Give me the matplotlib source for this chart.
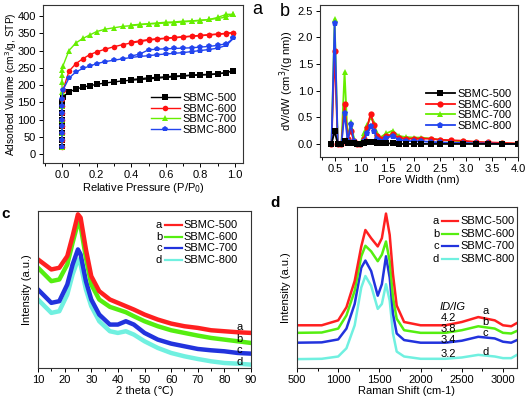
import numpy as np
import matplotlib
matplotlib.use("Agg")
import matplotlib.pyplot as plt
from matplotlib.ticker import MultipleLocator

plt.rcParams['font.family'] = ['Liberation Sans', 'DejaVu Sans']
plt.rcParams['font.size'] = 8

names = ['SBMC-500', 'SBMC-600', 'SBMC-700', 'SBMC-800']

# ---- panel a: N2 isotherms ----
p_ads = [0, 0, 0, 0, 0, 0, 0, 0, 0.005, 0.04, 0.08, 0.12, 0.16, 0.2, 0.25, 0.3,
         0.35, 0.4, 0.45, 0.5, 0.55, 0.6, 0.65, 0.7, 0.75, 0.8, 0.85, 0.9, 0.95, 0.99]
p_des = [0.99, 0.95, 0.9, 0.85, 0.8, 0.75, 0.7, 0.65, 0.6, 0.55, 0.5, 0.45, 0.4]

ads_500 = [20, 40, 60, 80, 100, 120, 140, 150, 165, 180, 188, 194, 198, 202, 206, 209,
           212, 214, 216, 218, 220, 222, 224, 226, 228, 229, 230, 232, 236, 242]
des_500 = [242, 236, 233, 231, 230, 229, 227, 226, 224, 222, 221, 218, 216]
ads_600 = [20, 40, 60, 80, 100, 120, 140, 160, 185, 240, 262, 276, 288, 296, 304, 311,
           317, 322, 326, 330, 333, 335, 337, 339, 341, 343, 345, 347, 349, 352]
des_600 = [352, 350, 348, 346, 344, 342, 340, 338, 336, 334, 332, 328, 324]
ads_700 = [20, 60, 100, 140, 180, 210, 230, 245, 255, 300, 322, 335, 345, 355, 362, 366,
           370, 372, 375, 377, 378, 380, 381, 383, 385, 387, 390, 396, 405, 405]
des_700 = [405, 397, 393, 390, 388, 386, 385, 383, 382, 380, 378, 376, 374]
ads_800 = [20, 40, 60, 80, 100, 120, 140, 160, 185, 220, 238, 248, 255, 262, 268, 272,
           276, 280, 283, 285, 288, 290, 292, 294, 297, 300, 303, 307, 315, 335]
des_800 = [335, 320, 315, 312, 310, 308, 307, 306, 305, 304, 302, 290, 284]

# ---- panel b: pore size distribution ----
pore_w = [0.43, 0.49, 0.55, 0.62, 0.68, 0.74, 0.80, 0.86, 0.92, 0.98, 1.05, 1.11, 1.18,
          1.24, 1.30, 1.36, 1.48, 1.60, 1.72, 1.85, 2.0, 2.15, 2.33, 2.5, 2.72, 2.95,
          3.2, 3.43, 3.7, 4.0]
psd_500 = [0, 0.24, 0, 0, 0.05, 0.02, 0.02, 0.01, 0, 0, 0.02, 0.03, 0.04, 0.03, 0.02,
           0.01, 0.01, 0.01, 0, 0, 0, 0, 0, 0, 0, 0, 0, 0, 0, 0]
psd_600 = [0, 1.75, 0, 0, 0.75, 0.1, 0.25, 0.05, 0, 0, 0.1, 0.3, 0.57, 0.35, 0.15, 0.1,
           0.15, 0.18, 0.12, 0.1, 0.1, 0.1, 0.1, 0.08, 0.07, 0.06, 0.04, 0.03, 0.02, 0.01]
psd_700 = [0, 2.35, 0, 0, 1.35, 0.1, 0.42, 0.1, 0, 0, 0.2, 0.35, 0.5, 0.4, 0.2, 0.12,
           0.2, 0.25, 0.15, 0.13, 0.12, 0.12, 0.1, 0.08, 0.06, 0.05, 0.03, 0.02, 0.01, 0]
psd_800 = [0, 2.27, 0, 0, 0.58, 0.05, 0.38, 0.05, 0, 0, 0.05, 0.2, 0.33, 0.25, 0.1, 0.05,
           0.12, 0.15, 0.08, 0.06, 0.05, 0.05, 0.04, 0.03, 0.02, 0.02, 0.01, 0.01, 0, 0]

# ---- panel c: XRD ----
theta = [10, 15, 18, 21, 23, 25, 26, 28, 30, 33, 37, 40, 43, 46, 50, 55, 60, 65, 70, 75, 80, 85, 90]
xrd_a = [325, 295, 300, 335, 395, 460, 450, 355, 275, 230, 205, 195, 185, 175, 160, 145,
         133, 125, 120, 113, 110, 107, 105]
xrd_b = [300, 260, 265, 310, 375, 435, 425, 330, 250, 205, 183, 175, 167, 155, 140, 125,
         113, 105, 97, 90, 85, 80, 75]
xrd_c = [235, 195, 200, 250, 310, 355, 340, 260, 205, 160, 130, 130, 140, 130, 105, 85,
         73, 65, 57, 53, 50, 45, 43]
xrd_d = [205, 165, 170, 220, 280, 325, 310, 235, 185, 140, 110, 105, 110, 100, 80, 60,
         45, 35, 27, 20, 15, 13, 10]

# ---- panel d: Raman ----
shift = [500, 800, 1000, 1100, 1200, 1280, 1330, 1400, 1480, 1530, 1580, 1625, 1665,
         1710, 1800, 2000, 2300, 2500, 2700, 2900, 3000, 3100, 3170]
ram_a = [130, 130, 145, 185, 265, 370, 420, 395, 370, 395, 470, 405, 285, 190, 140,
         130, 130, 140, 155, 145, 130, 127, 137]
ram_b = [107, 108, 120, 160, 235, 340, 372, 355, 325, 345, 385, 325, 215, 150, 115,
         107, 107, 115, 127, 120, 107, 105, 113]
ram_c = [77, 78, 87, 120, 195, 305, 327, 295, 220, 255, 340, 275, 165, 105, 85, 77,
         77, 83, 95, 90, 80, 77, 85]
ram_d = [27, 28, 35, 60, 130, 245, 280, 250, 180, 195, 255, 205, 105, 50, 35, 28,
         28, 32, 40, 35, 30, 30, 40]
ratios = ['4.2', '3.8', '3.4', '3.2']
ratio_y = [153, 118, 85, 43]
letter_y = [175, 140, 105, 48]

W, H = 530, 401
fig = plt.figure(figsize=(W / 100, H / 100), dpi=100)


def box(l, r, t, b):
    return [l / W, (H - b) / H, (r - l) / W, (b - t) / H]


def style(ax):
    for s in ax.spines.values():
        s.set_color('#333333')
        s.set_linewidth(0.8)
    ax.tick_params(which='both', direction='out', labelsize=8, width=0.7, pad=2)
    ax.tick_params(which='major', length=3)
    ax.tick_params(which='minor', length=1.8)


ms = 4
c4 = ['black', '#ff1010', '#66ee00', '#2244ee']
marks = ['s', 'o', '^', 'p']

# a
ax = fig.add_axes(box(43, 243, 5, 163))
ads = [ads_500, ads_600, ads_700, ads_800]
des = [des_500, des_600, des_700, des_800]
for i in range(4):
    ax.plot(p_ads, ads[i], marker=marks[i], color=c4[i], ms=ms, lw=1, mew=0, label=names[i])
    ax.plot(p_des, des[i], marker=marks[i], color=c4[i], ms=ms, lw=1, mew=0)
ax.set_xlim(-0.11, 1.046)
ax.set_ylim(-26, 432)
ax.xaxis.set_minor_locator(MultipleLocator(0.1))
ax.yaxis.set_major_locator(MultipleLocator(50))
ax.set_xticks([0, 0.2, 0.4, 0.6, 0.8, 1.0])
ax.set_xlabel('Relative Pressure (P/P$_0$)', fontsize=8, labelpad=1)
ax.set_ylabel('Adsorbed Volume (cm$^3$/g, STP)', fontsize=7.3)
ax.yaxis.set_label_coords(-0.12, 0.5)
style(ax)
ax.legend(loc='center right', bbox_to_anchor=(1.0, 0.31), frameon=False, fontsize=8,
          handlelength=2.6, handletextpad=0.2, labelspacing=0.05, borderaxespad=0.2)
fig.text(257 / W, 1 - 9 / H, 'a', fontsize=13, ha='center', va='center')

# b
ax = fig.add_axes(box(320, 518, 5, 157))
psd = [psd_500, psd_600, psd_700, psd_800]
for i in [2, 1, 3, 0]:
    ax.plot(pore_w, psd[i], marker=marks[i], color=c4[i], ms=ms + 0.5, lw=1.3, mew=0,
            label=names[i])
ax.set_xlim(0.21, 4.0)
ax.set_ylim(-0.245, 2.61)
ax.xaxis.set_major_locator(MultipleLocator(0.5))
ax.xaxis.set_minor_locator(MultipleLocator(0.25))
ax.yaxis.set_major_locator(MultipleLocator(0.5))
ax.set_xlabel('Pore Width (nm)', fontsize=8, labelpad=1)
ax.set_ylabel('dV/dW (cm$^3$/(g nm))', fontsize=8, labelpad=1)
style(ax)
hs, ls = ax.get_legend_handles_labels()
order = [3, 1, 0, 2]
ax.legend([hs[k] for k in order], [ls[k] for k in order], loc='center right',
          bbox_to_anchor=(1.0, 0.31), frameon=False, fontsize=8,
          handlelength=2.6, handletextpad=0.2, labelspacing=0.05, borderaxespad=0.2)
fig.text(285 / W, 1 - 12 / H, 'b', fontsize=13, ha='center', va='center')

# c
cc = ['#ff2020', '#55ee10', '#2233dd', '#70f0e0']
ax = fig.add_axes(box(38, 251, 211, 368))
xrd = [xrd_a, xrd_b, xrd_c, xrd_d]
for i in [3, 2, 1, 0]:
    ax.plot(theta, xrd[i], color=cc[i], lw=3.2, solid_joinstyle='round')
ax.set_xlim(10, 90)
ax.set_ylim(0, 470)
ax.set_yticks([])
ax.xaxis.set_major_locator(MultipleLocator(10))
ax.xaxis.set_minor_locator(MultipleLocator(5))
ax.set_xlabel('2 theta (\u2103)', fontsize=8, labelpad=1)
ax.set_ylabel('Intensity (a.u.)', fontsize=8, labelpad=4)
style(ax)
for i, lab in enumerate('abcd'):
    yy = 225 + i * 11.7
    ax.plot([165 / W, 182 / W], [1 - yy / H] * 2, color=cc[i], lw=1.6, transform=fig.transFigure)
    fig.text(159 / W, 1 - yy / H, lab, fontsize=8, ha='center', va='center')
    fig.text(183 / W, 1 - yy / H, names[i], fontsize=8, ha='left', va='center')
for lab, yv in zip('abcd', [122, 87, 53, 17]):
    ax.text(85.6, yv, lab, fontsize=8, ha='center', va='center')
fig.text(6 / W, 1 - 214 / H, 'c', fontsize=11, fontweight='bold', ha='center', va='center')

# d
ax = fig.add_axes(box(297, 517, 207, 368))
ram = [ram_a, ram_b, ram_c, ram_d]
for i in [3, 2, 1, 0]:
    ax.plot(shift, ram[i], color=cc[i], lw=1.8, solid_joinstyle='round')
ax.set_xlim(500, 3170)
ax.set_ylim(0, 490)
ax.set_yticks([])
ax.xaxis.set_major_locator(MultipleLocator(500))
ax.xaxis.set_minor_locator(MultipleLocator(250))
ax.set_xlabel('Raman Shift (cm-1)', fontsize=8, labelpad=1)
ax.set_ylabel('Intensity (a.u.)', fontsize=8, labelpad=4)
style(ax)
for i, lab in enumerate('abcd'):
    yy = 221 + i * 12.7
    ax.plot([442 / W, 458 / W], [1 - yy / H] * 2, color=cc[i], lw=1.6, transform=fig.transFigure)
    fig.text(436 / W, 1 - yy / H, lab, fontsize=8, ha='center', va='center')
    fig.text(460 / W, 1 - yy / H, names[i], fontsize=8, ha='left', va='center')
ax.text(2393, 187, 'ID/IG', fontsize=8, style='italic', ha='center', va='center')
for r, yv in zip(ratios, ratio_y):
    ax.text(2340, yv, r, fontsize=8, ha='center', va='center')
for lab, yv in zip('abcd', letter_y):
    ax.text(2786, yv, lab, fontsize=8, ha='center', va='center')
fig.text(275 / W, 1 - 203 / H, 'd', fontsize=11, fontweight='bold', ha='center', va='center')

fig.savefig('out.png', dpi=100)
